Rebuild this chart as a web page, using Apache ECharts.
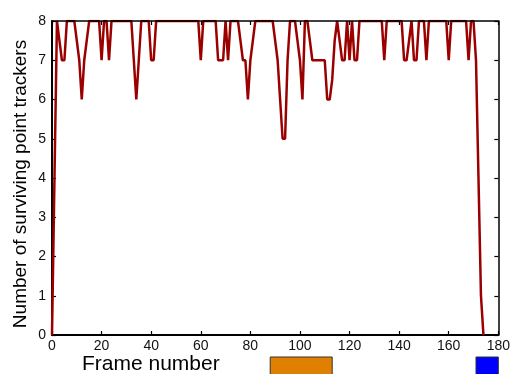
<!DOCTYPE html>
<html>
<head>
<meta charset="utf-8">
<script src="https://cdn.jsdelivr.net/npm/echarts@6/dist/echarts.min.js"></script>
<style>
  html, body { margin: 0; padding: 0; background: #ffffff; }
  #chart { width: 513px; height: 374px; }
</style>
</head>
<body>
<div id="chart"></div>
<script>
// Surviving point trackers per frame (frame index = array position)
const trackerCounts = [
  0, 4, 8, 7.5, 7, 7, 8, 8, 8, 8,        // 0-9
  7.5, 7, 6, 7, 7.5, 8, 8, 8, 8, 8,      // 10-19
  7, 8, 8, 7, 8, 8, 8, 8, 8, 8,          // 20-29
  8, 8, 8, 7, 6, 7, 8, 8, 8, 8,          // 30-39
  7, 7, 8, 8, 8, 8, 8, 8, 8, 8,          // 40-49
  8, 8, 8, 8, 8, 8, 8, 8, 8, 8,          // 50-59
  7, 8, 8, 8, 8, 8, 8, 7, 7, 7,          // 60-69
  8, 7, 8, 8, 8, 8, 7.5, 7, 7, 6,        // 70-79
  7, 7.5, 8, 8, 8, 8, 8, 8, 8, 8,        // 80-89
  7.5, 7, 6, 5, 5, 7, 8, 8, 8, 7.5,      // 90-99
  7, 6, 8, 8, 7.5, 7, 7, 7, 7, 7,        // 100-109
  7, 6, 6, 6.5, 7.5, 8, 7.5, 7, 7, 8,    // 110-119
  7, 8, 7, 7, 8, 8, 8, 8, 8, 8,          // 120-129
  8, 8, 8, 8, 7, 8, 8, 8, 8, 8,          // 130-139
  8, 8, 7, 7, 7.5, 8, 7, 7, 8, 8,        // 140-149
  8, 7, 8, 8, 8, 8, 8, 8, 8, 8,          // 150-159
  7, 8, 8, 8, 8, 8, 8, 8, 7, 8,          // 160-169
  8, 7, 4, 1, 0                          // 170-174
];

// Axis ranges
const frameAxis = { min: 0, max: 180, interval: 20 };
const countAxis = { min: 0, max: 8, interval: 1 };

// Frame intervals marked with coloured boxes under the axis
const markedRanges = [[88, 113], [171, 180]];
const markedColors = ['#e08000', '#0000ff'];

const xTitle = 'Frame number';
const yTitle = 'Number of surviving point trackers';

const chart = echarts.init(document.getElementById('chart'), null, { renderer: 'canvas' });

const font = '"Liberation Sans", Arial, sans-serif';
const axisBase = (range, extra) => Object.assign({
  type: 'value',
  min: range.min,
  max: range.max,
  interval: range.interval,
  splitLine: { show: false },
  axisTick: { show: true, inside: true, length: 4, lineStyle: { color: '#000', width: 1.2 } },
  axisLine: { show: true, onZero: false, lineStyle: { color: '#000', width: 2 } },
  axisLabel: { show: true, color: '#111', fontFamily: font, fontSize: 14 }
}, extra);

chart.setOption({
  animation: false,
  backgroundColor: '#ffffff',
  grid: { left: 52, right: 14, top: 21, bottom: 39 },
  xAxis: [
    axisBase(frameAxis, { position: 'bottom', axisLabel: { color: '#111', fontFamily: font, fontSize: 14, margin: 4 } }),
    axisBase(frameAxis, { position: 'top', z: 5, axisLabel: { show: false },
      axisLine: { show: true, onZero: false, lineStyle: { color: '#000', width: 1.5 } } })
  ],
  yAxis: [
    axisBase(countAxis, { position: 'left', axisLabel: { color: '#111', fontFamily: font, fontSize: 14, margin: 6 } }),
    axisBase(countAxis, { position: 'right', z: 5, axisLabel: { show: false },
      axisLine: { show: true, onZero: false, lineStyle: { color: '#000', width: 1.5 } } })
  ],
  series: [{
    type: 'line',
    xAxisIndex: 0,
    yAxisIndex: 0,
    data: trackerCounts.map((v, i) => [i, v]),
    showSymbol: false,
    symbol: 'none',
    clip: true,
    lineStyle: { color: '#9a0000', width: 2.5 },
    z: 3
  }]
});

// Axis titles and the marked-range boxes below the frame axis
const graphics = [
  {
    type: 'text',
    left: 82,
    top: 354,
    style: { text: xTitle, fill: '#000', font: '21px ' + font }
  },
  {
    type: 'text',
    x: 21,
    y: 184,
    rotation: Math.PI / 2,
    style: { text: yTitle, fill: '#000', font: '19px ' + font, align: 'center', verticalAlign: 'middle' }
  }
];
markedRanges.forEach((r, k) => {
  const x0 = chart.convertToPixel({ xAxisIndex: 0 }, r[0]);
  const x1 = chart.convertToPixel({ xAxisIndex: 0 }, r[1]);
  graphics.push({
    type: 'rect',
    shape: { x: x0, y: 357, width: x1 - x0, height: 20 },
    style: { fill: markedColors[k], stroke: '#333', lineWidth: 1 }
  });
});
chart.setOption({ graphic: graphics });
</script>
</body>
</html>
